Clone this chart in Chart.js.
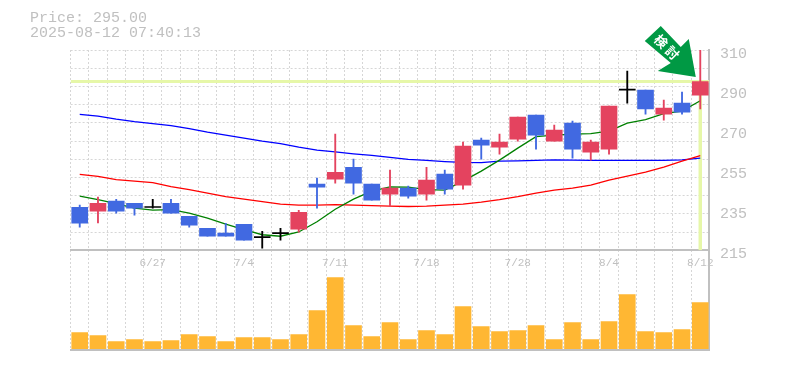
<!DOCTYPE html>
<html>
<head>
<meta charset="utf-8">
<script src="https://cdn.jsdelivr.net/npm/chart.js@4"></script>
<style>
  html, body { margin: 0; padding: 0; background: #fff; }
  #wrap { width: 785px; height: 370px; }
</style>
</head>
<body>
<div id="wrap"><canvas id="stockChart" width="785" height="370"></canvas></div>
<script>
const dates = ["6/23","6/24","6/25","6/26","6/27","6/30","7/1","7/2","7/3","7/4","7/7","7/8","7/9","7/10","7/11","7/14","7/15","7/16","7/17","7/18","7/22","7/23","7/24","7/25","7/28","7/29","7/30","7/31","8/1","8/4","8/5","8/6","8/7","8/8","8/12"];
const shownDates = ["6/27","7/4","7/11","7/18","7/28","8/4","8/12"];

const opens  = [235.4,233.5,238.3,237.3,235.3,237.3,231.15,225.45,223.1,227.35,221,222.9,225,246.35,248.7,254.4,246.35,241.6,244.45,241.6,251.1,245.9,267.25,263.9,267.7,279.1,266.8,275.3,261.55,263,291,291,279.6,284.8,288.6];
const highs  = [236.4,240.2,239.2,237.3,239.2,239.2,231.15,225.45,227.8,227.35,224,225.45,234,249.2,270.1,258.2,246.35,253,245.4,254.4,253,266.3,268.2,270.1,278.2,279.1,274.4,276.3,267.25,283.4,300,291,286.25,290,310];
const lows   = [225.9,228,232.6,231.65,235,232.6,225.9,221.65,221.65,219.75,216,219.75,223.55,234.95,246.8,241.6,238.75,235.9,239.7,238.75,241.6,244,258.2,260.6,266.8,263,266.8,258.7,257.75,260.6,284.8,279.6,276.75,279.6,282];
const closes = [227.8,237.3,233.5,234.95,235.3,232.6,226.9,221.65,221.65,219.75,221,222.9,233.05,244.9,252,246.8,238.75,244.45,240.65,248.25,244,264.4,264.9,266.3,278.2,269.6,272,263,266.3,283.4,291,282,282.45,280.55,295];

const maShort = [240.65,238.99,237.09,234.95,234,234.24,232.58,230.2,227.35,224.74,222.36,221.65,223.69,228.54,234.48,239.23,243.03,245.07,244.93,243.74,243.5,247.78,252.53,257.75,263.45,268.91,269.63,270.1,270.34,271.53,275.33,276.99,279.84,281.03,285.92];
const maMid   = [250.96,250.01,248.49,247.78,247.06,245.16,243.74,242.08,240.41,239.23,238.04,236.85,236.38,236.38,236.61,236.38,236.14,235.9,235.76,235.9,236.38,236.85,237.8,238.99,240.41,242.08,243.5,244.45,245.88,248.25,250.15,252.05,254.43,257.28,259.89];
const maLong  = [279.46,278.65,277.23,276.04,275.09,274.14,272.71,271.05,269.63,268.2,266.78,265.59,263.93,262.5,261.69,260.74,259.98,259.03,258.08,257.61,257.04,256.66,256.56,257.28,257.37,257.61,257.85,257.75,257.61,257.61,257.61,257.66,257.66,257.9,258.7];

const volumes = [16,13,7,9,7,8,14,12,7,11,11,9,14,38,71,23,12,26,9,18,14,42,22,17,18,23,9,26,9,27,54,17,16,19,46];

const priceTicks = [310,291,272,253,234,215];
const priceLabels = ["310","290","270","255","235","215"];
const gridTicks = [215,223.64,232.27,240.91,249.55,258.18,266.82,275.45,284.09,292.73,301.36,310];

const currentPrice = 295;
const headerLines = ["Price: 295.00","2025-08-12 07:40:13"];
const badgeText = ["検","討"];

const UP = "#e4435f", DOWN = "#4169e1", DOJI = "#000000";
const GRAY = "#c0c0c0", GRID = "#d6d6d6", MARK = "#e6f7a8", FONT = "'Liberation Mono', monospace";

function candleColor(i) {
  if (opens[i] === closes[i]) return DOJI;
  return closes[i] > opens[i] ? UP : DOWN;
}
const colors = dates.map((d, i) => candleColor(i));

// header text and the arrow badge that points at the last candle
const overlay = {
  id: "overlay",
  afterDraw(chart) {
    const ctx = chart.ctx;
    ctx.save();
    ctx.fillStyle = GRAY;
    ctx.font = "15px " + FONT;
    ctx.textBaseline = "middle";
    ctx.textAlign = "left";
    ctx.fillText(headerLines[0], 30, 18);
    ctx.fillText(headerLines[1], 30, 33);

    const tipX = chart.scales.x.getPixelForValue(dates.length - 1) - 4.5;
    const tipY = chart.scales.y.getPixelForValue(currentPrice) - 4.5;
    ctx.translate(tipX, tipY);
    ctx.fillStyle = "#009944";
    ctx.beginPath();
    ctx.moveTo(0, 0);
    ctx.lineTo(-38, -6);
    ctx.lineTo(-25, -14);
    ctx.lineTo(-51, -36);
    ctx.lineTo(-35, -51);
    ctx.lineTo(-15, -30);
    ctx.lineTo(-7, -38);
    ctx.closePath();
    ctx.fill();

    ctx.fillStyle = "#ffffff";
    ctx.font = "bold 13px 'Noto Sans CJK JP'";
    ctx.textAlign = "center";
    ctx.translate(-29, -30);
    ctx.rotate(Math.PI / 4);
    ctx.fillText(badgeText[0], -8, 0);
    ctx.fillText(badgeText[1], 8, 0);
    ctx.restore();
  }
};

new Chart(document.getElementById("stockChart"), {
  data: {
    labels: dates,
    datasets: [
      { type: "bar", label: "body", data: dates.map((d, i) => [opens[i], closes[i]]), backgroundColor: colors, barThickness: 16, minBarLength: 1, grouped: false, yAxisID: "y", order: 1 },
      { type: "bar", label: "wick", data: dates.map((d, i) => [lows[i], highs[i]]), backgroundColor: colors, barThickness: 1.2, grouped: false, yAxisID: "y", order: 2 },
      { type: "bar", label: "volume", data: volumes, backgroundColor: "#ffb733", barThickness: 16, grouped: false, yAxisID: "v", order: 3 },
      { type: "line", label: "short", data: maShort, borderColor: "#008000", borderWidth: 1.3, pointRadius: 0, tension: 0, yAxisID: "y", order: 4 },
      { type: "line", label: "mid", data: maMid, borderColor: "#ff0000", borderWidth: 1.3, pointRadius: 0, tension: 0, yAxisID: "y", order: 5 },
      { type: "line", label: "long", data: maLong, borderColor: "#0000ff", borderWidth: 1.3, pointRadius: 0, tension: 0, yAxisID: "y", order: 6 },
      { type: "line", label: "price", data: [{ x: 0, y: currentPrice }, { x: dates.length, y: currentPrice }], xAxisID: "xf", borderColor: MARK, borderWidth: 3, pointRadius: 0, yAxisID: "y", order: 7 },
      { type: "line", label: "today", data: [{ x: dates.length - 0.5, y: currentPrice }, { x: dates.length - 0.5, y: 215 }], xAxisID: "xf", borderColor: MARK, borderWidth: 3.5, pointRadius: 0, yAxisID: "y", order: 8 }
    ]
  },
  options: {
    responsive: false,
    animation: false,
    layout: { padding: { left: 70.6, top: 50, right: 0, bottom: 19 } },
    plugins: { legend: { display: false }, tooltip: { enabled: false } },
    scales: {
      x: {
        type: "category",
        position: { y: 215 },
        offset: true,
        grid: { offset: true, color: GRID, drawTicks: false, lineWidth: 1 },
        border: { dash: [2, 2], color: GRAY, width: 2 },
        ticks: {
          autoSkip: false, maxRotation: 0, minRotation: 0, padding: 6, color: GRAY,
          font: { family: FONT, size: 11 },
          callback(value) {
            const d = this.getLabelForValue(value);
            return shownDates.includes(d) ? d : "";
          }
        }
      },
      xf: {
        type: "linear",
        position: "bottom",
        min: 0,
        max: dates.length,
        grid: { display: false, drawTicks: false },
        border: { color: GRAY, width: 2 },
        ticks: { display: false }
      },
      y: {
        type: "linear",
        position: "right",
        stack: "panels",
        stackWeight: 2,
        min: 215,
        max: 310,
        afterBuildTicks(scale) {
          const all = [...new Set([...gridTicks, ...priceTicks])].sort((a, b) => a - b);
          scale.ticks = all.map(value => ({ value }));
        },
        afterFit(scale) { scale.width = 75.6; },
        grid: {
          drawTicks: false,
          color: ctx => gridTicks.includes(ctx.tick.value) ? GRID : "transparent"
        },
        border: { dash: [2, 2], color: GRAY, width: 2 },
        ticks: {
          autoSkip: false, padding: 10.6, labelOffset: 4, color: GRAY,
          font: { family: FONT, size: 15 },
          callback(value) {
            const i = priceTicks.indexOf(value);
            return i >= 0 ? priceLabels[i] : "";
          }
        }
      },
      v: {
        type: "linear",
        position: "right",
        stack: "panels",
        stackWeight: 1,
        min: -1.7,
        max: 98.3,
        afterFit(scale) { scale.width = 75.6; },
        grid: { display: false, drawTicks: false },
        border: { color: GRAY, width: 2 },
        ticks: { display: false }
      }
    }
  },
  plugins: [overlay]
});
</script>
</body>
</html>
